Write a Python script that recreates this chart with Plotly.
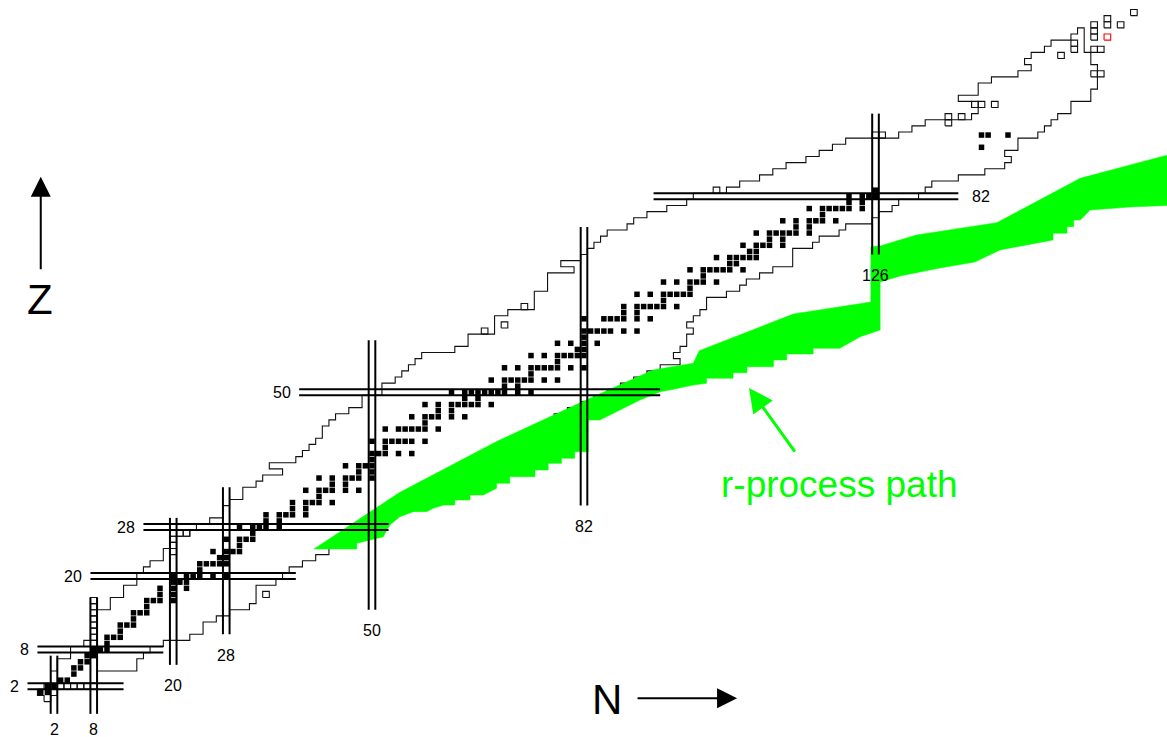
import plotly.graph_objects as go

# ---------------- data ----------------
# rows of the chart (proton number Z) and the known-nuclide limits per row
Z_rows = list(range(0, 110))
N_min = [1, 0, 1, 2, 2, 3, 3, 5, 5, 7,
         9, 9, 9, 9, 9, 11, 11, 13, 13, 15,
         15, 16, 17, 19, 19, 20, 20, 23, 24, 26,
         28, 28, 29, 31, 31, 33, 34, 37, 35, 39,
         40, 41, 42, 43, 43, 44, 45, 47, 49, 49,
         52, 52, 54, 55, 56, 57, 58, 63, 65, 65,
         69, 69, 69, 71, 75, 75, 75, 77, 77, 77,
         81, 79, 82, 83, 84, 85, 86, 89, 90, 92,
         95, 98, 99, 104, 106, 109, 111, 113, 116, 118,
         120, 122, 130, 132, 134, 141, 142, 141, 139, 142,
         142, 144, 148, 150, 149, 150, 152, 153, 156, 157]
N_max = [1, 2, 2, 8, 8, 14, 14, 15, 16, 18,
         22, 24, 24, 26, 28, 31, 32, 32, 32, 35,
         36, 37, 39, 41, 43, 45, 46, 48, 50, 51,
         52, 54, 55, 57, 58, 60, 61, 63, 64, 66,
         67, 69, 70, 72, 74, 76, 77, 79, 81, 83,
         85, 87, 89, 91, 93, 96, 95, 96, 97, 97,
         98, 97, 98, 99, 100, 100, 103, 105, 106, 108,
         110, 113, 113, 113, 116, 117, 120, 121, 125, 126,
         128, 129, 132, 133, 134, 138, 142, 145, 146, 145,
         147, 147, 150, 151, 152, 153, 155, 155, 158, 158,
         159, 159, 159, 159, 158, 158, 157, 157, 157, 157]

# stable (and primordial) nuclides as (Z, A)
stable_ZA = [
    (1, 1), (1, 2), (2, 3), (2, 4), (3, 6), (3, 7), (4, 9), (5, 10), (5, 11),
    (6, 12), (6, 13), (7, 14), (7, 15), (8, 16), (8, 17), (8, 18), (9, 19),
    (10, 20), (10, 21), (10, 22), (11, 23), (12, 24), (12, 25), (12, 26), (13, 27),
    (14, 28), (14, 29), (14, 30), (15, 31), (16, 32), (16, 33), (16, 34), (16, 36),
    (17, 35), (17, 37), (18, 36), (18, 38), (18, 40), (19, 39), (19, 40), (19, 41),
    (20, 40), (20, 42), (20, 43), (20, 44), (20, 46), (20, 48), (21, 45),
    (22, 46), (22, 47), (22, 48), (22, 49), (22, 50), (23, 50), (23, 51),
    (24, 50), (24, 52), (24, 53), (24, 54), (25, 55), (26, 54), (26, 56), (26, 57), (26, 58),
    (27, 59), (28, 58), (28, 60), (28, 61), (28, 62), (28, 64), (29, 63), (29, 65),
    (30, 64), (30, 66), (30, 67), (30, 68), (30, 70), (31, 69), (31, 71),
    (32, 70), (32, 72), (32, 73), (32, 74), (32, 76), (33, 75),
    (34, 74), (34, 76), (34, 77), (34, 78), (34, 80), (34, 82), (35, 79), (35, 81),
    (36, 78), (36, 80), (36, 82), (36, 83), (36, 84), (36, 86), (37, 85), (37, 87),
    (38, 84), (38, 86), (38, 87), (38, 88), (39, 89), (40, 90), (40, 91), (40, 92), (40, 94), (40, 96),
    (41, 93), (42, 92), (42, 94), (42, 95), (42, 96), (42, 97), (42, 98), (42, 100),
    (44, 96), (44, 98), (44, 99), (44, 100), (44, 101), (44, 102), (44, 104), (45, 103),
    (46, 102), (46, 104), (46, 105), (46, 106), (46, 108), (46, 110), (47, 107), (47, 109),
    (48, 106), (48, 108), (48, 110), (48, 111), (48, 112), (48, 113), (48, 114), (48, 116),
    (49, 113), (49, 115),
    (50, 112), (50, 114), (50, 115), (50, 116), (50, 117), (50, 118), (50, 119), (50, 120), (50, 122), (50, 124),
    (51, 121), (51, 123),
    (52, 120), (52, 122), (52, 123), (52, 124), (52, 125), (52, 126), (52, 128), (52, 130), (53, 127),
    (54, 124), (54, 126), (54, 128), (54, 129), (54, 130), (54, 131), (54, 132), (54, 134), (54, 136),
    (55, 133), (56, 130), (56, 132), (56, 134), (56, 135), (56, 136), (56, 137), (56, 138),
    (57, 138), (57, 139), (58, 136), (58, 138), (58, 140), (58, 142), (59, 141),
    (60, 142), (60, 143), (60, 144), (60, 145), (60, 146), (60, 148), (60, 150),
    (62, 144), (62, 147), (62, 148), (62, 149), (62, 150), (62, 152), (62, 154), (63, 151), (63, 153),
    (64, 152), (64, 154), (64, 155), (64, 156), (64, 157), (64, 158), (64, 160), (65, 159),
    (66, 156), (66, 158), (66, 160), (66, 161), (66, 162), (66, 163), (66, 164), (67, 165),
    (68, 162), (68, 164), (68, 166), (68, 167), (68, 168), (68, 170), (69, 169),
    (70, 168), (70, 170), (70, 171), (70, 172), (70, 173), (70, 174), (70, 176), (71, 175), (71, 176),
    (72, 174), (72, 176), (72, 177), (72, 178), (72, 179), (72, 180), (73, 180), (73, 181),
    (74, 180), (74, 182), (74, 183), (74, 184), (74, 186), (75, 185), (75, 187),
    (76, 184), (76, 186), (76, 187), (76, 188), (76, 189), (76, 190), (76, 192), (77, 191), (77, 193),
    (78, 190), (78, 192), (78, 194), (78, 195), (78, 196), (78, 198), (79, 197),
    (80, 196), (80, 198), (80, 199), (80, 200), (80, 201), (80, 202), (80, 204), (81, 203), (81, 205),
    (82, 204), (82, 206), (82, 207), (82, 208), (83, 209), (90, 232), (92, 234), (92, 235), (92, 238),
]

# separately outlined cells (N, Z)
open_cells = [
    (3, 2), (4, 2), (5, 2), (6, 2), (7, 2), (8, 2),
    (8, 10), (8, 11), (8, 12), (8, 13), (8, 14), (8, 15), (8, 16),
    (20, 24), (20, 25), (20, 26), (21, 27), (22, 27),
    (34, 17), (67, 60), (70, 61), (73, 64), (102, 83), (126, 92), (127, 92),
    (137, 94), (137, 95), (139, 95), (141, 97), (142, 97), (144, 97),
    (154, 105), (156, 106), (156, 107), (159, 106), (160, 106), (159, 102), (160, 102),
    (159, 108), (159, 109), (159, 110), (161, 110), (161, 111), (163, 110), (165, 112),
]
red_cells = [(161, 108)]

# magic numbers and the extent of their double lines
magic_N = [2, 8, 20, 28, 50, 82, 126]
magic_N_zlo = [-2.5, -2.5, 5.5, 10.5, 14.5, 31.5, 72.5]
magic_N_zhi = [7.0, 16.5, 29.5, 34.5, 58.5, 77.0, 95.5]
magic_Z = [2, 8, 20, 28, 50, 82]
magic_Z_nlo = [-2.0, -0.5, 7.5, 15.5, 39.0, 92.5]
magic_Z_nhi = [12.5, 18.5, 38.5, 52.5, 93.5, 138.5]

# r-process path band outline (N, Z)
rproc_path = [
    (41.25, 24.42), (54.15, 33.64), (68.82, 41.97), (82.41, 48.78), (92.46, 53.66),
    (98.50, 54.74), (99.40, 56.79), (113.6, 62.78), (125.3, 64.74), (125.3, 73.77),
    (126.7, 73.89), (132.2, 75.69), (144.3, 77.69), (156.9, 84.94), (172.0, 89.3),
    (172.0, 80.6), (164.4, 80.25), (158.4, 79.76), (156.9, 78.13), (155.9, 78.13),
    (155.9, 77.04), (154.9, 77.04), (154.9, 75.96), (152.8, 75.96), (152.8, 74.87),
    (144.8, 73.25), (141.0, 71.27), (135.7, 70.29), (129.7, 68.99), (126.7, 68.0),
    (126.7, 60.17), (123.7, 59.08), (120.6, 57.18), (116.6, 57.18), (116.6, 56.25),
    (112.6, 56.25), (112.6, 55.27), (110.6, 55.27), (110.6, 54.18), (106.6, 54.18),
    (106.6, 53.2), (104.5, 53.2), (104.5, 52.29), (100.5, 52.29), (100.5, 51.47),
    (98.5, 51.19), (95.5, 50.49), (93.5, 50.1), (90.45, 48.74), (85.9, 46.29),
    (84.4, 45.47), (82.65, 45.47), (82.65, 40.3), (80.6, 40.3), (80.6, 39.22),
    (78.6, 39.22), (78.6, 38.41), (76.6, 38.41), (76.6, 37.31), (74.6, 37.31),
    (74.6, 36.22), (70.8, 36.22), (70.8, 35.14), (68.8, 35.14), (68.8, 34.33),
    (66.8, 33.23), (64.8, 33.23), (64.8, 32.42), (62.5, 32.42), (62.5, 31.6),
    (60.8, 31.6), (59.25, 31.06), (58.26, 30.51), (56.23, 30.51), (54.2, 29.69),
    (52.7, 28.33), (51.7, 26.42), (47.7, 25.35), (47.7, 24.42), (41.25, 24.42),
]

# ---------------- build geometry from the data ----------------
bx, by = [], []
for z, lo in zip(Z_rows, N_min):
    bx += [lo - 0.5, lo - 0.5]
    by += [z - 0.5, z + 0.5]
for z, hi in reversed(list(zip(Z_rows, N_max))):
    bx += [hi + 0.5, hi + 0.5]
    by += [z + 0.5, z - 0.5]
bx.append(bx[0])
by.append(by[0])


def cell_outline(cells):
    xs, ys = [], []
    for n, z in cells:
        xs += [n - 0.5, n + 0.5, n + 0.5, n - 0.5, n - 0.5, None]
        ys += [z - 0.5, z - 0.5, z + 0.5, z + 0.5, z - 0.5, None]
    return xs, ys


ox, oy = cell_outline(open_cells)
rx, ry = cell_outline(red_cells)

mx, my = [], []
for n, lo, hi in zip(magic_N, magic_N_zlo, magic_N_zhi):
    for d in (-0.5, 0.5):
        mx += [n + d, n + d, None]
        my += [lo, hi, None]
for z, lo, hi in zip(magic_Z, magic_Z_nlo, magic_Z_nhi):
    for d in (-0.5, 0.5):
        mx += [lo, hi, None]
        my += [z + d, z + d, None]

sN = [a - z for z, a in stable_ZA]
sZ = [z for z, a in stable_ZA]

fig = go.Figure()
fig.add_trace(go.Scatter(x=bx, y=by, mode="lines",
                         line=dict(color="#111111", width=1.1), hoverinfo="skip"))
fig.add_trace(go.Scatter(x=ox, y=oy, mode="lines",
                         line=dict(color="#111111", width=1.1), hoverinfo="skip"))
fig.add_trace(go.Scatter(x=[p[0] for p in rproc_path], y=[p[1] for p in rproc_path],
                         mode="lines", fill="toself", fillcolor="#00ff00",
                         line=dict(color="#00ff00", width=0.5), hoverinfo="skip"))
fig.add_trace(go.Scatter(x=mx, y=my, mode="lines",
                         line=dict(color="black", width=2), hoverinfo="skip"))
fig.add_trace(go.Scatter(x=rx, y=ry, mode="lines",
                         line=dict(color="red", width=1.1), hoverinfo="skip"))
fig.add_trace(go.Scatter(x=sN, y=sZ, mode="markers",
                         marker=dict(symbol="square", size=5.5, color="black",
                                     line=dict(width=0)), hoverinfo="skip"))

num_font = dict(family="Liberation Sans, Arial, sans-serif", size=16, color="black")
ann = []
for n, lo in zip(magic_N, magic_N_zlo):
    ann.append(dict(x=n, y=max(lo - 3.45, -5.1), text=str(n), showarrow=False,
                    font=num_font, xanchor="center", yanchor="middle"))
for z, lo, hi in zip(magic_Z, magic_Z_nlo, magic_Z_nhi):
    if z == 82:
        ann.append(dict(x=hi + 1.7, y=z, text=str(z), showarrow=False,
                        font=num_font, xanchor="left", yanchor="middle"))
    else:
        ann.append(dict(x=lo - 1.0, y=z, text=str(z), showarrow=False,
                        font=num_font, xanchor="right", yanchor="middle"))

big_font = dict(family="Liberation Sans, Arial, sans-serif", size=42, color="black")
ann.append(dict(x=-0.1, y=65.1, text="Z", showarrow=False, font=big_font,
                xanchor="center", yanchor="middle"))
ann.append(dict(x=0.0, y=85.2, text="", showarrow=True, ax=0, ay=94,
                arrowhead=2, arrowsize=2, arrowwidth=2, arrowcolor="black"))
ann.append(dict(x=85.5, y=-0.1, text="N", showarrow=False, font=big_font,
                xanchor="center", yanchor="middle"))
ann.append(dict(x=105.1, y=0.04, text="", showarrow=True, ax=-101, ay=0,
                arrowhead=2, arrowsize=2, arrowwidth=2, arrowcolor="black"))

ann.append(dict(x=120.6, y=34.9, text="r-process path", showarrow=False,
                font=dict(family="Liberation Sans, Arial, sans-serif", size=37, color="#00ff00"),
                xanchor="center", yanchor="middle"))
ann.append(dict(x=106.9, y=50.7, text="", showarrow=True, ax=47, ay=65,
                arrowhead=2, arrowsize=1.6, arrowwidth=3, arrowcolor="#00ff00"))

fig.update_layout(
    width=1167, height=737, autosize=False,
    margin=dict(l=0, r=0, t=0, b=0, pad=0),
    paper_bgcolor="white", plot_bgcolor="white", showlegend=False,
    xaxis=dict(range=[-6.151, 170.0], visible=False, fixedrange=True),
    yaxis=dict(range=[-6.278, 114.05], visible=False, fixedrange=True),
    annotations=ann, hovermode=False,
)

fig.write_html("out.html", config={"displayModeBar": False})
